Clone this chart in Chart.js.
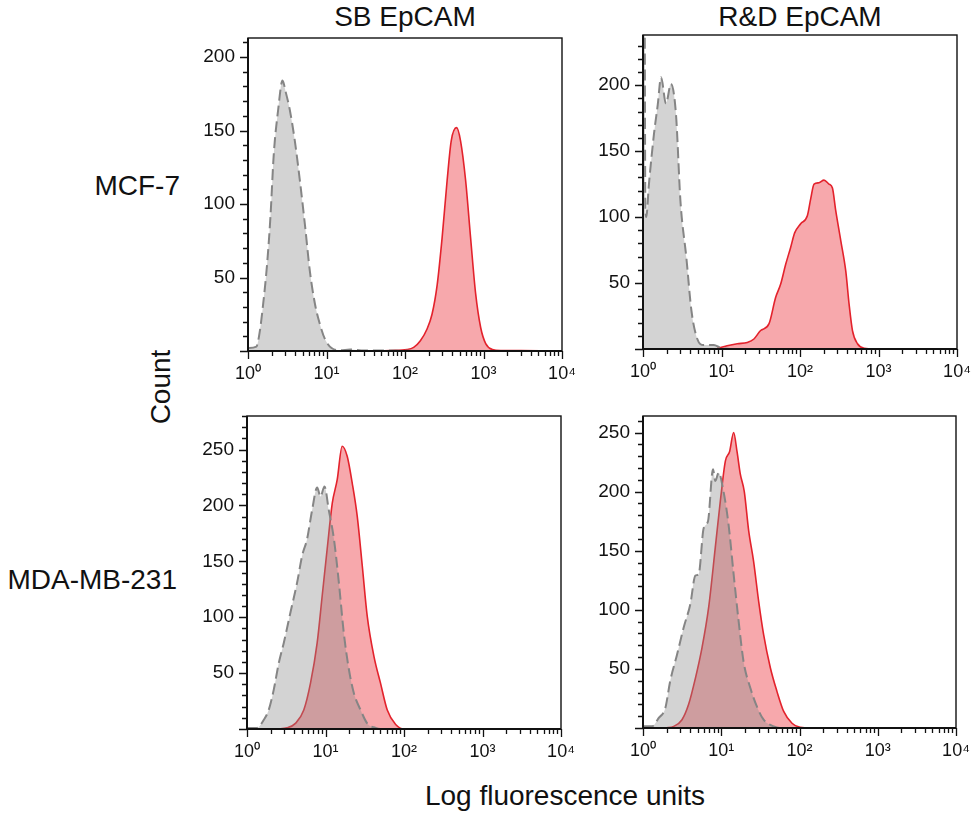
<!DOCTYPE html>
<html>
<head>
<meta charset="utf-8">
<title>EpCAM staining</title>
<script src="https://cdn.jsdelivr.net/npm/chart.js"></script>
<style>
  html, body { margin: 0; padding: 0; overflow: hidden; background: #fff; }
  body { width: 976px; height: 816px; position: relative; font-family: 'Liberation Sans', Arial, sans-serif; color: #111; }
  .panel { position: absolute; }
  .lbl { position: absolute; font-size: 28px; line-height: 1; white-space: nowrap; }
</style>
</head>
<body>
<div class="lbl" style="left:405px; top:17px; transform:translate(-50%,-50%)">SB EpCAM</div>
<div class="lbl" style="left:800px; top:17px; transform:translate(-50%,-50%)">R&amp;D EpCAM</div>
<div class="lbl" style="right:796px; top:186px; transform:translateY(-50%)">MCF-7</div>
<div class="lbl" style="right:799px; top:580px; transform:translateY(-50%)">MDA-MB-231</div>
<div class="lbl" style="left:161px; top:387px; transform:translate(-50%,-50%) rotate(-90deg)">Count</div>
<div class="lbl" style="left:565px; top:796px; transform:translate(-50%,-50%)">Log fluorescence units</div>

<div class="panel" id="pTL"><canvas id="cTL"></canvas></div>
<div class="panel" id="pTR"><canvas id="cTR"></canvas></div>
<div class="panel" id="pBL"><canvas id="cBL"></canvas></div>
<div class="panel" id="pBR"><canvas id="cBR"></canvas></div>

<script>
// tick labels
const xTickLabels = ['10⁰', '10¹', '10²', '10³', '10⁴'];
const yLabelsTop = [50, 100, 150, 200];
const yLabelsBottom = [50, 100, 150, 200, 250];

// MCF-7 / SB EpCAM
const tlGrayX = [1, 1.28, 1.41, 1.56, 1.75, 1.93, 2.13, 2.42, 2.75, 3.03, 3.41, 3.95, 4.58, 5.31, 6.15, 7.13, 8.26, 9.57, 11.6, 14.9, 20, 30, 60, 200, 10000];
const tlGrayY = [2, 3, 13, 32, 59, 91, 134, 164, 184, 176, 164, 143, 116, 86, 54, 32, 18, 8, 2, 0.5, 1, 0.3, 0.3, 0, 0];
const tlRedX = [50, 65, 106, 129, 157, 191, 221, 257, 297, 344, 388, 454, 510, 592, 685, 794, 920, 1067, 1297, 1660, 3000, 10000];
const tlRedY = [0, 0.3, 1, 2.5, 7, 15, 25, 45, 77, 116, 143, 152, 143, 116, 77, 39, 16, 5, 1, 0.3, 0.3, 0];

// MCF-7 / R&D EpCAM
const trGrayX = [1, 1.05, 1.07, 1.1, 1.19, 1.38, 1.54, 1.7, 1.96, 2.27, 2.63, 3.0, 3.57, 4.14, 4.89, 5.95, 7.98, 9.7, 13, 30, 10000];
const trGrayY = [260, 250, 110, 100, 125, 163, 185, 206, 186, 201, 178, 112, 69, 29, 8, 3, 3, 1, 0, 0, 0];
const trRedX = [8.8, 11.8, 15.9, 21.3, 25.9, 31.5, 40.2, 48.9, 56.6, 65.6, 76, 85.5, 102, 124, 137, 151, 175, 202, 234, 259, 285, 331, 383, 422, 466, 540, 656, 880, 10000];
const trRedY = [0.5, 2.5, 4, 5, 7.6, 14, 19, 39, 49, 64, 77, 88, 95, 101, 114, 125, 126, 128, 125, 122, 105, 82, 59, 34, 14, 4, 0.5, 0, 0];

// MDA-MB-231 / SB EpCAM
const blGrayX = [1, 1.34, 1.63, 1.89, 2.19, 2.54, 2.94, 3.57, 4.35, 5.04, 5.83, 6.76, 7.83, 8.63, 9.71, 11, 12.8, 14.8, 17.1, 19.9, 23, 28, 34, 43.5, 50, 10000];
const blGrayY = [1, 1, 8, 17, 35, 59, 77, 104, 131, 155, 170, 196, 216, 208, 217, 196, 170, 131, 86, 53, 32, 17, 5, 1, 0, 0];
const blRedX = [2.42, 3.24, 4.14, 5.29, 6.44, 7.83, 9.07, 10.5, 12.2, 14.1, 16.3, 18.9, 21.9, 25.4, 29.4, 34, 41.4, 50.2, 61.2, 78.3, 100, 10000];
const blRedY = [0, 1, 5, 17, 41, 77, 119, 161, 202, 223, 253, 244, 220, 190, 146, 101, 65, 41, 17, 4, 0, 0];

// MDA-MB-231 / R&D EpCAM
const brGrayX = [1, 1.3, 1.59, 1.93, 2.23, 2.72, 3.31, 4.03, 4.67, 5.14, 5.96, 6.77, 7.85, 8.4, 9.27, 10.7, 12.4, 14.4, 16.7, 19.3, 23.5, 28.6, 34.8, 46.8, 56.9, 10000];
const brGrayY = [1.4, 1.4, 8.5, 17, 40, 62, 85, 105, 129, 130, 169, 175, 219, 209, 216, 200, 172, 130, 90, 56, 34, 18, 7, 1.4, 0, 0];
const brRedX = [1.93, 2.47, 3.15, 3.83, 4.67, 5.68, 6.9, 8.4, 9.73, 11.3, 12.8, 14.4, 15.9, 17.5, 19.7, 22.4, 25.9, 30.1, 34.8, 42.4, 51.5, 62.8, 80.2, 102, 138, 10000];
const brRedY = [0, 1.4, 7, 20, 42, 68, 102, 153, 192, 226, 234, 250, 234, 215, 200, 167, 141, 107, 79, 51, 31, 14, 4, 0.5, 0, 0];

Chart.defaults.font.family = "'Liberation Sans', Arial, sans-serif";
Chart.defaults.color = '#111';

// space around the plot box inside each canvas
const PAD_L = 75, PAD_T = 12, PAD_R = 25, PAD_B = 45;

const toPoints = (xs, ys) => xs.map((x, i) => ({ x: x, y: ys[i] }));

const isDecade = v => {
    const e = Math.round(Math.log10(v));
    return Math.abs(Math.pow(10, e) - v) < 1e-6;
};

// box + tick marks (major/minor lengths differ, which chart.js can't do by itself)
const frameTicks = {
    id: 'frameTicks',
    afterDraw(chart) {
        const { ctx, chartArea: a, scales: { x, y } } = chart;
        ctx.save();
        ctx.strokeStyle = '#111';
        ctx.lineWidth = 1.3;
        ctx.beginPath();
        y.ticks.forEach(t => {
            const py = Math.round(y.getPixelForValue(t.value)) + 0.5;
            const len = t.value % 50 === 0 ? 8 : 5;
            ctx.moveTo(a.left - len, py);
            ctx.lineTo(a.left, py);
        });
        x.ticks.forEach(t => {
            const px = Math.round(x.getPixelForValue(t.value)) + 0.5;
            const len = isDecade(t.value) ? 8 : 5;
            ctx.moveTo(px, a.bottom);
            ctx.lineTo(px, a.bottom + len);
        });
        ctx.stroke();

        ctx.lineWidth = 1.4;
        ctx.strokeRect(a.left, a.top, a.right - a.left, a.bottom - a.top);
        ctx.lineWidth = 2;
        ctx.beginPath();
        ctx.moveTo(a.left, a.top);
        ctx.lineTo(a.left, a.bottom);
        ctx.lineTo(a.right, a.bottom);
        ctx.stroke();
        ctx.restore();
    }
};

function makePanel(id, box, ymax, yLabels, grayX, grayY, redX, redY) {
    const wrap = document.getElementById('p' + id);
    wrap.style.left = (box.L - PAD_L) + 'px';
    wrap.style.top = (box.T - PAD_T) + 'px';
    wrap.style.width = (box.R - box.L + PAD_L + PAD_R) + 'px';
    wrap.style.height = (box.B - box.T + PAD_T + PAD_B) + 'px';

    new Chart(document.getElementById('c' + id), {
        type: 'line',
        data: {
            datasets: [{
                label: 'Isotype',
                data: toPoints(grayX, grayY),
                borderColor: '#858585',
                borderWidth: 2,
                borderDash: [11, 5],
                backgroundColor: 'rgba(140, 140, 140, 0.38)',
                fill: 'origin',
                pointRadius: 0,
                cubicInterpolationMode: 'monotone'
            }, {
                label: 'EpCAM',
                data: toPoints(redX, redY),
                borderColor: '#e3222c',
                borderWidth: 1.6,
                backgroundColor: 'rgb(247, 168, 172)',
                fill: 'origin',
                pointRadius: 0,
                cubicInterpolationMode: 'monotone'
            }]
        },
        options: {
            responsive: true,
            maintainAspectRatio: false,
            animation: false,
            layout: {
                padding: { left: 0, top: PAD_T, right: PAD_R, bottom: 0 }
            },
            scales: {
                x: {
                    type: 'logarithmic',
                    min: 1,
                    max: 10000,
                    afterBuildTicks: s => {
                        const ticks = [];
                        for (let d = 1; d < 10000; d *= 10) {
                            for (let m = 1; m < 10; m++) ticks.push({ value: m * d });
                        }
                        ticks.push({ value: 10000 });
                        s.ticks = ticks;
                    },
                    afterFit: s => {
                        s.height = PAD_B;
                        s.paddingLeft = 0;
                        s.paddingRight = 0;
                    },
                    grid: { display: false, drawTicks: false },
                    border: { display: false },
                    ticks: {
                        autoSkip: false,
                        maxRotation: 0,
                        minRotation: 0,
                        padding: 12,
                        font: { size: 18 },
                        callback: v => isDecade(v) ? xTickLabels[Math.round(Math.log10(v))] : ''
                    }
                },
                y: {
                    type: 'linear',
                    min: 0,
                    max: ymax,
                    afterBuildTicks: s => {
                        const ticks = [];
                        for (let v = 0; v <= ymax; v += 10) ticks.push({ value: v });
                        s.ticks = ticks;
                    },
                    afterFit: s => {
                        s.width = PAD_L;
                        s.paddingTop = 0;
                        s.paddingBottom = 0;
                    },
                    grid: { display: false, drawTicks: false },
                    border: { display: false },
                    ticks: {
                        autoSkip: false,
                        padding: 13,
                        font: { size: 19 },
                        callback: v => yLabels.includes(v) ? String(v) : ''
                    }
                }
            },
            plugins: {
                legend: { display: false },
                tooltip: { enabled: false }
            }
        },
        plugins: [frameTicks]
    });
}

makePanel('TL', { L: 248, T: 38, R: 562, B: 351 }, 213, yLabelsTop, tlGrayX, tlGrayY, tlRedX, tlRedY);
makePanel('TR', { L: 643, T: 35, R: 957, B: 349 }, 238, yLabelsTop, trGrayX, trGrayY, trRedX, trRedY);
makePanel('BL', { L: 247, T: 416, R: 561, B: 729 }, 280, yLabelsBottom, blGrayX, blGrayY, blRedX, blRedY);
makePanel('BR', { L: 643, T: 416, R: 956, B: 728 }, 264, yLabelsBottom, brGrayX, brGrayY, brRedX, brRedY);
</script>
</body>
</html>
